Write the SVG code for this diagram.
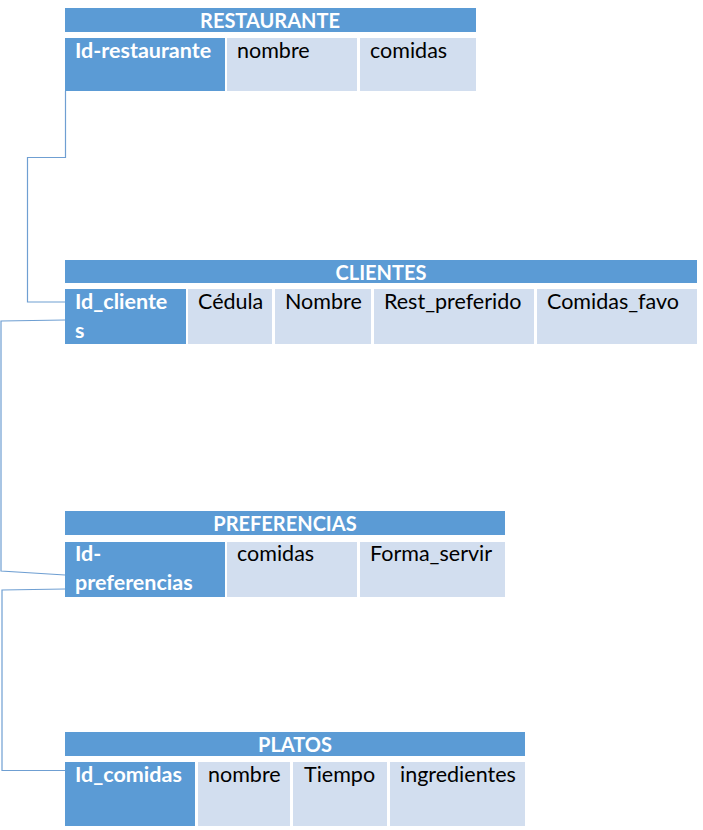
<svg xmlns="http://www.w3.org/2000/svg" width="703" height="830" viewBox="0 0 703 830">
<style>
.hd{fill:#5b9bd5}
.pk{fill:#5b9bd5}
.cl{fill:#d2deef}
.ht{font-family:Lato,"Liberation Sans",sans-serif;font-weight:bold;font-size:20px;fill:#ffffff;text-anchor:middle}
.pt{font-family:Lato,"Liberation Sans",sans-serif;font-weight:bold;font-size:21.5px;fill:#ffffff}
.ct{font-family:Lato,"Liberation Sans",sans-serif;font-size:21.5px;fill:#000000}
.ln{fill:none;stroke:#6f9fd2;stroke-width:1.2}
</style>
<rect width="703" height="830" fill="#ffffff"/>
<g id="connectors">
<polyline class="ln" points="65.5,91 65.5,157.5 27.5,157.5 27.5,302 65,302"/>
<polyline class="ln" points="65,320 1,321 1,571 65,575"/>
<polyline class="ln" points="65,589 2,590 2,770.5 65,770.5"/>
</g>
<g id="restaurante">
<rect class="hd" x="65" y="8" width="411" height="24"/>
<text class="ht" x="270" y="27.5">RESTAURANTE</text>
<rect class="pk" x="65" y="38" width="160" height="53"/>
<rect class="cl" x="227" y="38" width="130" height="53"/>
<rect class="cl" x="360" y="38" width="116" height="53"/>
<text class="pt" x="75" y="58">Id-restaurante</text>
<text class="ct" x="237" y="58">nombre</text>
<text class="ct" x="370" y="58">comidas</text>
</g>
<g id="clientes">
<rect class="hd" x="65" y="260" width="632" height="23"/>
<text class="ht" x="381" y="279.5">CLIENTES</text>
<rect class="pk" x="65" y="289" width="121" height="55"/>
<rect class="cl" x="188" y="289" width="84" height="55"/>
<rect class="cl" x="275" y="289" width="96" height="55"/>
<rect class="cl" x="374" y="289" width="160" height="55"/>
<rect class="cl" x="537" y="289" width="160" height="55"/>
<text class="pt" x="75" y="309">Id_cliente</text>
<text class="pt" x="75" y="338">s</text>
<text class="ct" x="198" y="309">Cédula</text>
<text class="ct" x="285" y="309">Nombre</text>
<text class="ct" x="384" y="309">Rest_preferido</text>
<text class="ct" x="547" y="309">Comidas_favo</text>
</g>
<g id="preferencias">
<rect class="hd" x="65" y="511" width="440" height="24"/>
<text class="ht" x="285" y="530.5">PREFERENCIAS</text>
<rect class="pk" x="65" y="542" width="160" height="55"/>
<rect class="cl" x="227" y="542" width="130" height="55"/>
<rect class="cl" x="360" y="542" width="145" height="55"/>
<text class="pt" x="75" y="561">Id-</text>
<text class="pt" x="75" y="590">preferencias</text>
<text class="ct" x="237" y="561">comidas</text>
<text class="ct" x="370" y="561">Forma_servir</text>
</g>
<g id="platos">
<rect class="hd" x="65" y="732" width="460" height="24"/>
<text class="ht" x="295" y="751.5">PLATOS</text>
<rect class="pk" x="65" y="762" width="130" height="64"/>
<rect class="cl" x="198" y="762" width="92" height="64"/>
<rect class="cl" x="293" y="762" width="94" height="64"/>
<rect class="cl" x="390" y="762" width="135" height="64"/>
<text class="pt" x="75" y="782">Id_comidas</text>
<text class="ct" x="208" y="782">nombre</text>
<text class="ct" x="304" y="782">Tiempo</text>
<text class="ct" x="400" y="782">ingredientes</text>
</g>
</svg>
